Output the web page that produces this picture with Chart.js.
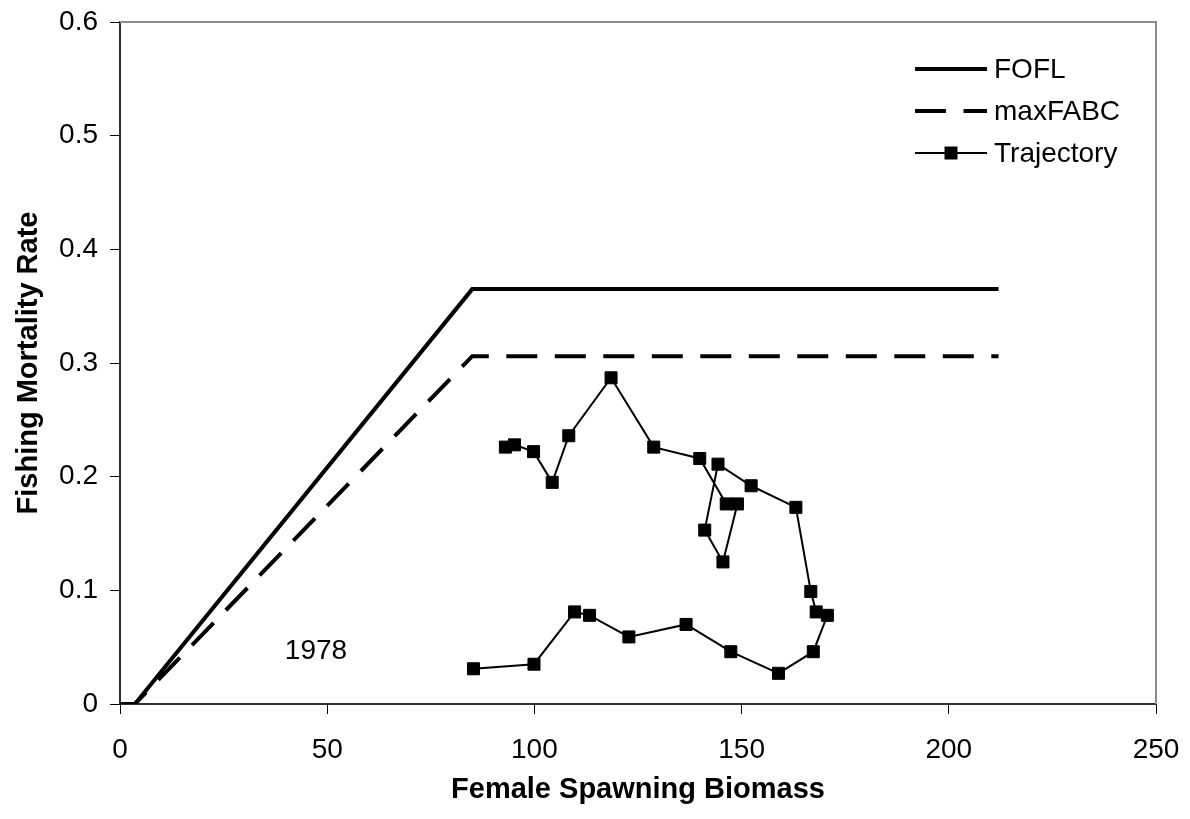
<!DOCTYPE html>
<html>
<head>
<meta charset="utf-8">
<script src="https://cdn.jsdelivr.net/npm/chart.js@4.4.1/dist/chart.umd.min.js"></script>
<style>
  html, body { margin: 0; padding: 0; background: #fff; }
  #wrap { width: 1190px; height: 819px; }
</style>
</head>
<body>
<div id="wrap"><canvas id="harvestChart" width="1190" height="819"></canvas></div>
<script>
// Harvest control rule lines
const ruleX = [0, 3.6, 85, 212];
const foflY = [0, 0, 0.365, 0.365];
const maxAbcY = [0, 0, 0.306, 0.306];

// Stock trajectory, 1978 onward
const trajX = [85.3, 99.9, 109.7, 113.3, 122.8, 136.6, 147.4, 158.9, 167.3, 170.7, 168.0, 166.7, 163.1,
  152.3, 144.3, 141.1, 145.5, 149.0, 146.3, 139.9, 128.8, 118.5, 108.3, 104.3, 99.8, 95.2, 93.0];
const trajY = [0.031, 0.035, 0.081, 0.078, 0.059, 0.070, 0.046, 0.027, 0.046, 0.078, 0.081, 0.099, 0.173,
  0.192, 0.211, 0.153, 0.125, 0.176, 0.176, 0.216, 0.226, 0.287, 0.236, 0.195, 0.222, 0.228, 0.226];

const xTicks = [0, 50, 100, 150, 200, 250];
const yTicks = [0, 0.1, 0.2, 0.3, 0.4, 0.5, 0.6];

const firstYearLabel = '1978';
const firstYearAt = [47.3, 0.047];

const FONT = "'Liberation Sans', Arial, sans-serif";

const pts = (xs, ys) => xs.map((x, i) => ({ x, y: ys[i] }));

// fixed axis box, label overhang ignored so the plot area stays put
const fixBox = size => s => {
  if (s.isHorizontal()) s.height = size; else s.width = size;
  s.paddingLeft = s.paddingRight = s.paddingTop = s.paddingBottom = 0;
};

// legend drawn inside the plot, Excel style
const insideLegend = {
  id: 'insideLegend',
  afterDatasetsDraw(chart) {
    const { ctx } = chart;
    const x0 = 915, x1 = 987;
    const rows = [69, 111, 153];
    ctx.save();
    chart.data.datasets.forEach((ds, i) => {
      const y = rows[i];
      ctx.strokeStyle = ds.borderColor;
      ctx.lineWidth = ds.borderWidth;
      ctx.setLineDash(ds.borderDash || []);
      ctx.beginPath();
      ctx.moveTo(x0, y);
      ctx.lineTo(x1, y);
      ctx.stroke();
      ctx.setLineDash([]);
      if (ds.pointRadius > 0) {
        const s = 13;
        ctx.fillStyle = ds.pointBackgroundColor;
        ctx.fillRect((x0 + x1) / 2 - s / 2, y - s / 2, s, s);
      }
      ctx.fillStyle = '#000';
      ctx.font = '28px ' + FONT;
      ctx.textAlign = 'left';
      ctx.textBaseline = 'middle';
      ctx.fillText(ds.label, 994, y + 1);
    });

    // year annotation
    const sx = chart.scales.x, sy = chart.scales.y;
    ctx.textAlign = 'center';
    ctx.fillText(firstYearLabel, sx.getPixelForValue(firstYearAt[0]), sy.getPixelForValue(firstYearAt[1]) + 1);
    ctx.restore();
  },
  beforeDatasetsDraw(chart) {
    // grey frame on top and right of the plot area
    const { ctx, chartArea: a } = chart;
    ctx.save();
    ctx.strokeStyle = '#8c8c8c';
    ctx.lineWidth = 2;
    ctx.beginPath();
    ctx.moveTo(a.left, a.top);
    ctx.lineTo(a.right, a.top);
    ctx.lineTo(a.right, a.bottom);
    ctx.stroke();
    ctx.restore();
  }
};

new Chart(document.getElementById('harvestChart'), {
  type: 'line',
  data: {
    datasets: [
      {
        label: 'FOFL',
        data: pts(ruleX, foflY),
        borderColor: '#000',
        borderWidth: 4,
        pointRadius: 0,
        tension: 0,
      },
      {
        label: 'maxFABC',
        data: pts(ruleX, maxAbcY),
        borderColor: '#000',
        borderWidth: 4,
        borderDash: [31, 17.5],
        pointRadius: 0,
        tension: 0,
      },
      {
        label: 'Trajectory',
        data: pts(trajX, trajY),
        borderColor: '#000',
        borderWidth: 2,
        pointStyle: 'rect',
        pointRadius: 8.5,
        pointBorderWidth: 1,
        pointBackgroundColor: '#000',
        pointBorderColor: '#000',
        tension: 0,
      },
    ],
  },
  options: {
    responsive: false,
    animation: false,
    layout: { padding: { top: 22, right: 34, left: 0, bottom: 0 } },
    plugins: { legend: { display: false }, tooltip: { enabled: false } },
    scales: {
      x: {
        type: 'linear',
        min: 0,
        max: 250,
        afterBuildTicks: s => { s.ticks = xTicks.map(v => ({ value: v })); },
        afterFit: fixBox(115),
        ticks: { color: '#000', font: { family: FONT, size: 28 }, padding: 19, maxRotation: 0 },
        grid: { drawOnChartArea: false, tickLength: 10, tickColor: '#000', lineWidth: 1 },
        border: { color: '#333', width: 2 },
        title: {
          display: true,
          text: 'Female Spawning Biomass',
          color: '#000',
          font: { family: FONT, size: 29, weight: 'bold' },
          padding: { top: 0, bottom: 12 },
        },
      },
      y: {
        type: 'linear',
        min: 0,
        max: 0.6,
        afterBuildTicks: s => { s.ticks = yTicks.map(v => ({ value: v })); },
        afterFit: fixBox(120),
        ticks: {
          color: '#000',
          font: { family: FONT, size: 28 },
          padding: 12,
          callback: v => (v === 0 ? '0' : v.toFixed(1)),
        },
        grid: { drawOnChartArea: false, tickLength: 10, tickColor: '#000', lineWidth: 1 },
        border: { color: '#333', width: 2 },
        title: {
          display: true,
          text: 'Fishing Mortality Rate',
          color: '#000',
          font: { family: FONT, size: 29, weight: 'bold' },
          padding: { top: 12, bottom: 0 },
        },
      },
    },
  },
  plugins: [insideLegend],
});
</script>
</body>
</html>
